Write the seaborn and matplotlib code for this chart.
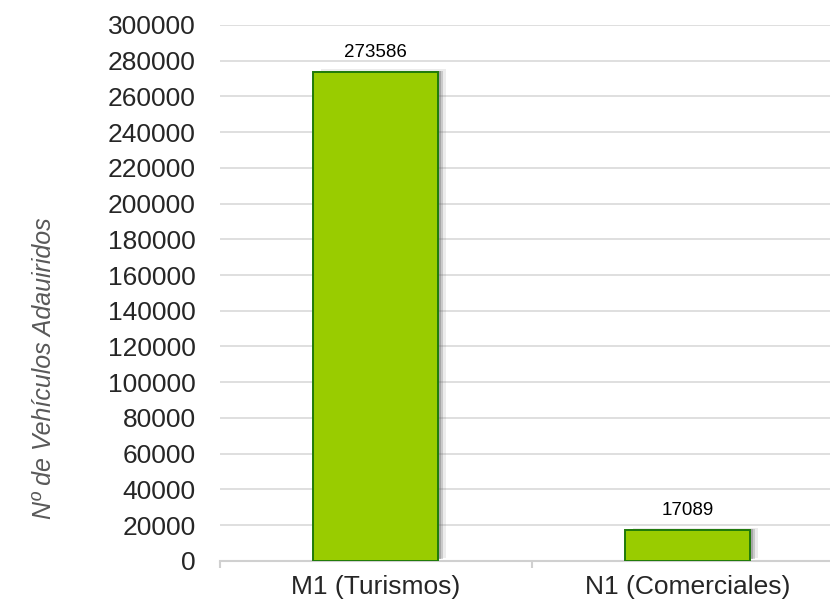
import matplotlib
matplotlib.use("Agg")
import matplotlib.pyplot as plt
import matplotlib.patheffects as pe
import seaborn as sns
import pandas as pd

categories = ["M1 (Turismos)", "N1 (Comerciales)"]
values = [273586, 17089]

df = pd.DataFrame({"Categoria": categories, "Vehiculos": values})

sns.set_style("white")
plt.rcParams["font.family"] = ["Liberation Sans", "DejaVu Sans"]

fig, ax = plt.subplots(figsize=(8.3, 6.05), dpi=100)
# the plot area runs past the right edge, as in the original
fig.subplots_adjust(left=0.2645, right=1.0163, top=0.9587, bottom=0.073)

sns.barplot(data=df, x="Categoria", y="Vehiculos", color="#99CC00",
            width=0.40, edgecolor="#1F7A0A", linewidth=1.4, saturation=1, ax=ax, zorder=3)

# soft grey shadow to the right of each bar
for bar in ax.patches:
    bar.set_path_effects([
        pe.SimplePatchShadow(offset=(6, 2), shadow_rgbFace="#666666", alpha=0.12),
        pe.SimplePatchShadow(offset=(4, 1), shadow_rgbFace="#666666", alpha=0.25),
        pe.SimplePatchShadow(offset=(2, 1), shadow_rgbFace="#666666", alpha=0.35),
        pe.Normal()])

for bar, v in zip(ax.patches, values):
    ax.annotate(str(v), (bar.get_x() + bar.get_width() / 2, v),
                xytext=(0, 8), textcoords="offset points",
                ha="center", va="bottom", fontsize=13.5, color="#000000")

ax.set_ylim(0, 300000)
ax.set_xlim(-0.5, 1.5)
ax.set_yticks(range(0, 300001, 20000))
ax.set_xticks([-0.5, 0.5, 1.5], minor=True)
ax.tick_params(axis="y", labelsize=19, length=0, pad=17)
ax.tick_params(axis="x", which="major", labelsize=19, length=0, pad=10)
ax.tick_params(axis="x", which="minor", length=5, width=1.5, color="#D0D0D0", bottom=True)
ax.yaxis.grid(True, color="#D9D9D9", linewidth=1.2, zorder=0)
ax.set_axisbelow(True)

for s in ["top", "right", "left"]:
    ax.spines[s].set_visible(False)
ax.spines["bottom"].set_color("#D0D0D0")
ax.spines["bottom"].set_linewidth(1.5)

ax.set_xlabel("")
ax.set_ylabel("Nº de Vehículos Adauiridos", fontsize=18, style="italic",
              color="#595959")
ax.yaxis.set_label_coords(-0.262, 0.36)

fig.savefig("out.png", dpi=100)
